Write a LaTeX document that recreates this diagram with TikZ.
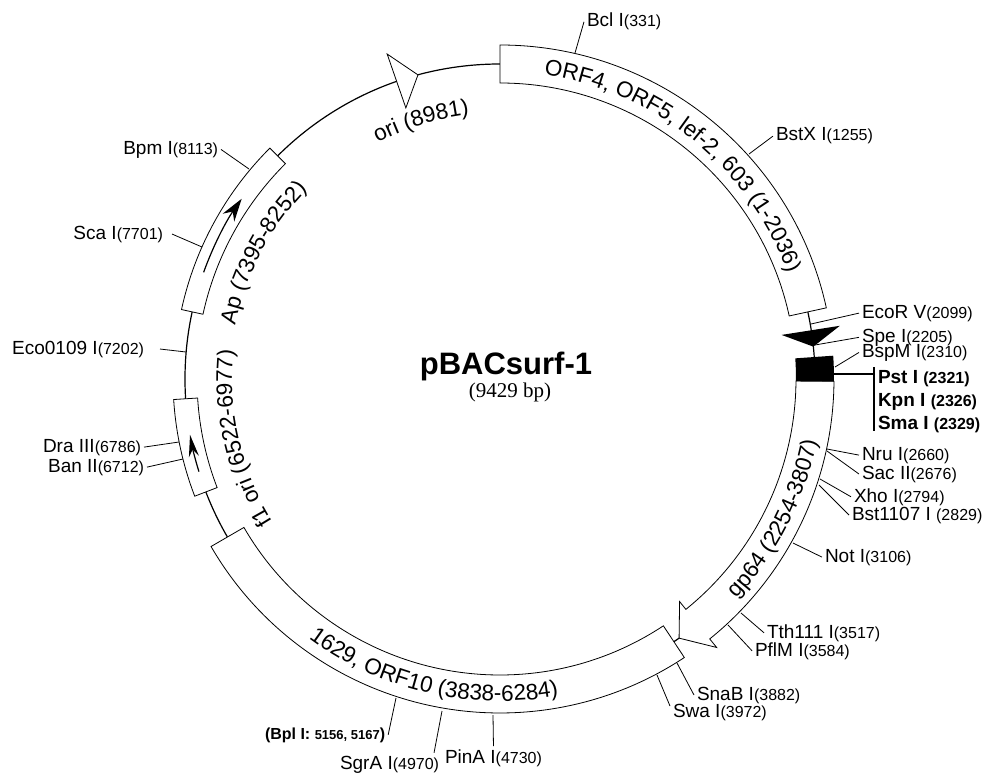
\documentclass[tikz,border=0pt]{standalone}
\usepackage{fontspec}
\setmainfont{Liberation Sans}
\newfontfamily\sizefont{Liberation Serif}
\usepackage{tikz}
\usetikzlibrary{arrows.meta,positioning,decorations.text}
\newcommand{\bpnum}[1]{{\fontsize{16}{16}\selectfont #1}}
\newcommand{\ringfont}{\fontsize{22.5}{26}\selectfont}

\begin{document}
\begin{tikzpicture}[
    x=1pt, y=-1pt,
    backbone/.style={line width=1.2pt},
    band/.style={draw, fill=white, line width=0.8pt},
    tick/.style={line width=0.8pt},
    site/.style={inner sep=0pt, outer sep=3pt, anchor=base west, font=\fontsize{19}{22}\selectfont},
    siteleft/.style={site, anchor=base east},
    sitebold/.style={site, font=\bfseries\fontsize{19}{22}\selectfont},
    inner arrow/.style 2 args={line width=1.2pt, -{Stealth[length=#1, width=#2]}},
    ringlabel/.style={decorate, decoration={text along path, text align=center, text={|\ringfont|#1}}}
]
\useasboundingbox (0,0) rectangle (993,773);

% the map, angles clockwise from the left of the ring centre
\begin{scope}[shift={(500,379)}]
\draw[backbone] (0,0) circle (315);
\draw[band] (-90:334) arc[start angle=-90, end angle=-12.3, radius=334] -- (-12.3:296)
    arc[start angle=-12.3, end angle=-90, radius=296] -- cycle;
\draw[band] (0.4:334) arc[start angle=0.4, end angle=51.1, radius=334] -- (51.1:345) -- (55.35:315) -- (51.1:286) -- (51.1:296)
    arc[start angle=51.1, end angle=0.4, radius=296] -- cycle;
\draw[band] (56.5:334) arc[start angle=56.5, end angle=149.9, radius=334] -- (149.9:296)
    arc[start angle=149.9, end angle=56.5, radius=296] -- cycle;
\draw[band] (159:327) arc[start angle=159, end angle=176.4, radius=327] -- (176.4:303)
    arc[start angle=176.4, end angle=159, radius=303] -- cycle;
\draw[band] (192.3:326) arc[start angle=192.3, end angle=225.1, radius=326] -- (225.1:304)
    arc[start angle=225.1, end angle=192.3, radius=304] -- cycle;
\draw[band] (250.85:344) -- (254.9:315) -- (250.85:287) -- cycle;
\fill (-8.9:344) -- (-5.9:315) -- (-8.9:285) -- cycle;
\fill (-4:334) arc[start angle=-4, end angle=0.4, radius=334] -- (0.4:296)
    arc[start angle=0.4, end angle=-4, radius=296] -- cycle;
\draw[inner arrow={23pt}{14pt}] (199.8:315) arc[start angle=199.8, end angle=214.9, radius=315];
\draw[inner arrow={22pt}{10pt}] (162.9:315) arc[start angle=162.9, end angle=169.8, radius=315];

\path[ringlabel={ORF4, ORF5, lef-2, 603 (1-2036)}] (-95:307) arc[start angle=-95, end angle=-7, radius=307];
\path[ringlabel={ori (8981)}] (213:266) arc[start angle=213, end angle=293, radius=266];
\path[ringlabel={Ap (7395-8252)}] (168:270) arc[start angle=168, end angle=248, radius=270];
\path[ringlabel={f1 ori (6522-6977)}] (127:268) arc[start angle=127, end angle=207, radius=268];
\path[ringlabel={gp64 (2254-3807)}] (67:323) arc[start angle=67, end angle=-13, radius=323];
\path[ringlabel={1629, ORF10 (3838-6284)}] (143:322) arc[start angle=143, end angle=63, radius=322];
\end{scope}

% name of the plasmid
\node[inner sep=0pt, font=\bfseries\fontsize{31}{34}\selectfont] (title) at (506,366) {pBACsurf-1};
\node[inner sep=0pt, below=2pt of title, xshift=4pt, font=\sizefont\fontsize{21}{24}\selectfont] (size) {(9429 bp)};

% sites
\node[site] (bcl) at (584,27) {Bcl I\bpnum{(331)}};
\node[site] (bstx) at (773,141) {BstX I\bpnum{(1255)}};
\node[site] (ecorv) at (859,318) {EcoR V\bpnum{(2099)}};
\node[site] (spe) at (859,342) {Spe I\bpnum{(2205)}};
\node[site] (bspm) at (859,357) {BspM I\bpnum{(2310)}};
\node[sitebold] (pst) at (875,383) {Pst I \bpnum{(2321)}};
\node[sitebold] (kpn) at (875,406) {Kpn I \bpnum{(2326)}};
\node[sitebold] (sma) at (875,429) {Sma I \bpnum{(2329)}};
\node[site] (nru) at (859,460) {Nru I\bpnum{(2660)}};
\node[site] (sac) at (859,479) {Sac II\bpnum{(2676)}};
\node[site] (xho) at (851,502) {Xho I\bpnum{(2794)}};
\node[site] (bst) at (849,520) {Bst1107 I \bpnum{(2829)}};
\node[site] (not) at (822,562) {Not I\bpnum{(3106)}};
\node[site] (tth) at (764,638) {Tth111 I\bpnum{(3517)}};
\node[site] (pflm) at (752,656) {PflM I\bpnum{(3584)}};
\node[site] (snab) at (694,700) {SnaB I\bpnum{(3882)}};
\node[site] (swa) at (670,717) {Swa I\bpnum{(3972)}};
\node[site] (pina) at (442,763) {PinA I\bpnum{(4730)}};
\node[site] (sgra) at (337,769) {SgrA I\bpnum{(4970)}};
\node[site, font=\bfseries\fontsize{16}{18}\selectfont] (bpl) at (262,739) {(Bpl I: {\fontsize{13}{13}\selectfont 5156, 5167})};
\node[siteleft] (bpm) at (221,154) {Bpm I\bpnum{(8113)}};
\node[siteleft] (sca) at (166,239) {Sca I\bpnum{(7701)}};
\node[siteleft] (eco) at (147,354) {Eco0109 I\bpnum{(7202)}};
\node[siteleft] (dra) at (144,452) {Dra III\bpnum{(6786)}};
\node[siteleft] (ban) at (147,472) {Ban II\bpnum{(6712)}};

% ring ends of the ticks
\coordinate (bcl0) at (575,53);
\coordinate (bstx0) at (749,154);
\coordinate (ecorv0) at (811,324);
\coordinate (spe0) at (815,345);
\coordinate (bspm0) at (835,367);
\coordinate (nru0) at (827,449);
\coordinate (sac0) at (827,451);
\coordinate (xho0) at (820,479);
\coordinate (bst0) at (819,485);
\coordinate (not0) at (793,543);
\coordinate (tth0) at (741,613);
\coordinate (pflm0) at (728,625);
\coordinate (snab0) at (677,663);
\coordinate (swa0) at (657,675);
\coordinate (pina0) at (493,715);
\coordinate (sgra0) at (442,711);
\coordinate (bpl0) at (396,698);
\coordinate (bpm0) at (249,169);
\coordinate (sca0) at (202,247);
\coordinate (eco0) at (186,352);
\coordinate (dra0) at (179,442);
\coordinate (ban0) at (183,459);

\draw[tick] (bcl0) -- (bcl.west);
\draw[tick] (bstx0) -- (bstx.west);
\draw[tick] (ecorv0) -- (ecorv.west);
\draw[tick] (spe0) -- (spe.west);
\draw[tick] (bspm0) -- (bspm.west);
\draw[tick] (nru0) -- (nru.west);
\draw[tick] (sac0) -- (sac.west);
\draw[tick] (xho0) -- (xho.west);
\draw[tick] (bst0) -- (bst.west);
\draw[tick] (not0) -- (not.west);
\draw[tick] (tth0) -- (tth.west);
\draw[tick] (pflm0) -- (pflm.west);
\draw[tick] (snab0) -- (snab.west);
\draw[tick] (swa0) -- ([yshift=6pt]swa.west);
\draw[tick] (pina0) -- (pina.north);
\draw[tick] (sgra0) -- ([xshift=-8pt]sgra.north east);
\draw[tick] (bpl0) -- (bpl.east);
\draw[tick] (bpm0) -- (bpm.east);
\draw[tick] (sca0) -- ([xshift=6pt]sca.east);
\draw[tick] (eco0) -- ([xshift=13pt]eco.east);
\draw[tick] (dra0) -- (dra.east);
\draw[tick] (ban0) -- (ban.east);

% bar that holds the three bold sites
\coordinate (bar0) at (834,374);
\coordinate (bar1) at (874,374);
\coordinate (bar2) at (874,367);
\coordinate (bar3) at (874,431);
\draw[line width=2pt] (bar0) -- (bar1);
\draw[line width=2pt] (bar2) -- (bar3);
\end{tikzpicture}
\end{document}
